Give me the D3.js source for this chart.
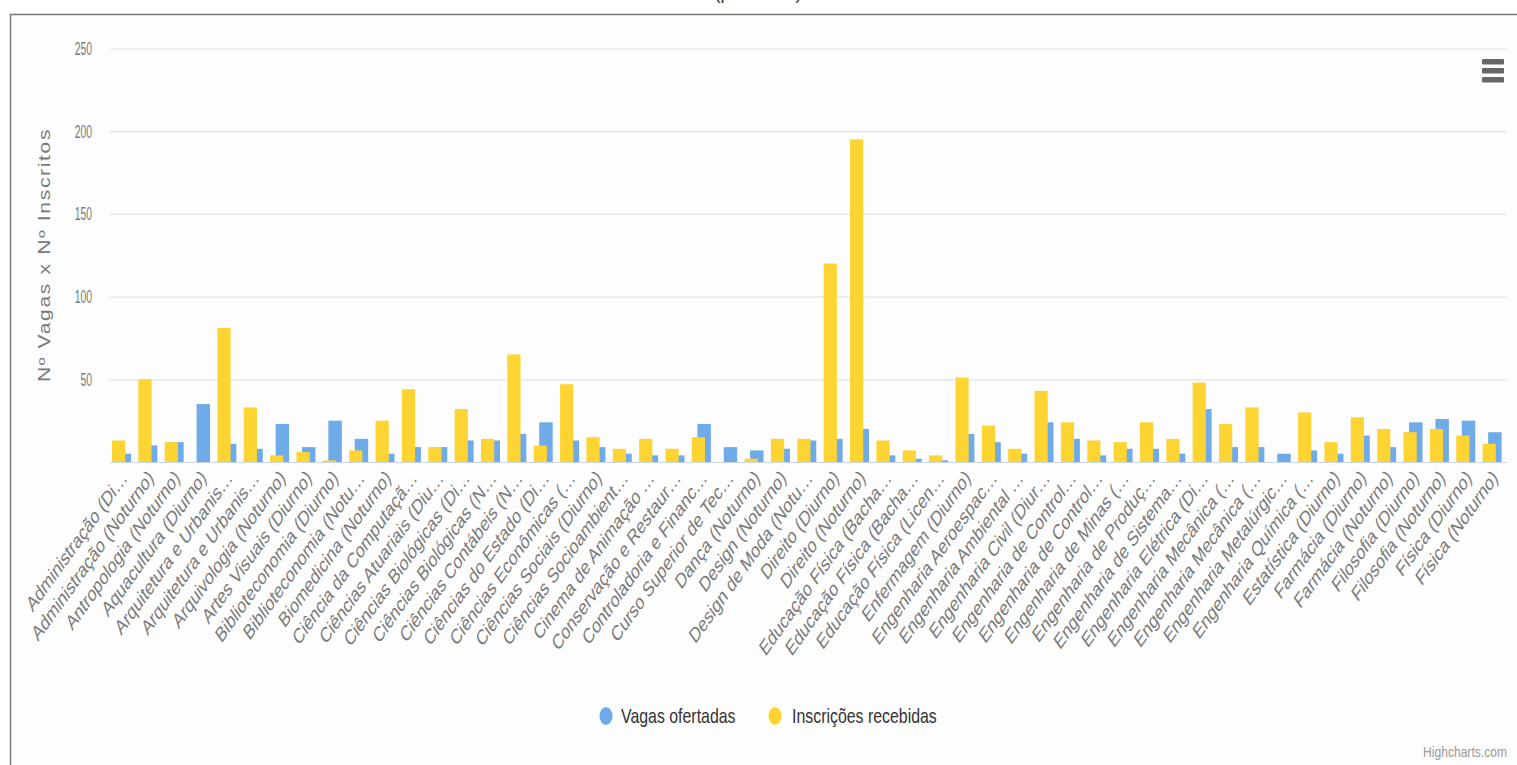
<!DOCTYPE html>
<html>
<head>
<meta charset="utf-8">
<script src="https://cdn.jsdelivr.net/npm/d3@7"></script>
<style>
  html, body { margin: 0; padding: 0; background: #ffffff; }
  svg { display: block; font-family: "Liberation Sans", Arial, sans-serif; }
</style>
</head>
<body>
<svg id="chart" width="1517" height="765"></svg>
<script>
const categories = [
  "Administração (Di…", "Administração (Noturno)", "Antropologia (Noturno)", "Aquacultura (Diurno)",
  "Arquitetura e Urbanis…", "Arquitetura e Urbanis… ", "Arquivologia (Noturno)", "Artes Visuais (Diurno)",
  "Biblioteconomia (Diurno)", "Biblioteconomia (Notu…", "Biomedicina (Noturno)", "Ciência da Computaçã…",
  "Ciências Atuariais (Diu…", "Ciências Biológicas (Di…", "Ciências Biológicas (N…", "Ciências Contábeis (N…",
  "Ciências do Estado (Di…", "Ciências Econômicas (…", "Ciências Sociais (Diurno)", "Ciências Socioambient…",
  "Cinema de Animação …", "Conservação e Restaur…", "Controladoria e Financ…", "Curso Superior de Tec…",
  "Dança (Noturno)", "Design (Noturno)", "Design de Moda (Notu…", "Direito (Diurno)",
  "Direito (Noturno)", "Educação Física (Bacha…", "Educação Física (Bacha… ", "Educação Física (Licen…",
  "Enfermagem (Diurno)", "Engenharia Aeroespac…", "Engenharia Ambiental …", "Engenharia Civil (Diur…",
  "Engenharia de Control…", "Engenharia de Control… ", "Engenharia de Minas (…", "Engenharia de Produç…",
  "Engenharia de Sistema…", "Engenharia Elétrica (Di…", "Engenharia Mecânica (…", "Engenharia Mecânica (… ",
  "Engenharia Metalúrgic…", "Engenharia Química (…", "Estatística (Diurno)", "Farmácia (Diurno)",
  "Farmácia (Noturno)", "Filosofia (Diurno)", "Filosofia (Noturno)", "Física (Diurno)", "Física (Noturno)"
];

const vagasOfertadas = [
  5, 10, 12, 35, 11, 8, 23, 9, 25, 14, 5, 9, 9, 13, 13, 17, 24, 13, 9, 5, 4, 4, 23, 9, 7, 8, 13,
  14, 20, 4, 2, 1, 17, 12, 5, 24, 14, 4, 8, 8, 5, 32, 9, 9, 5, 7, 5, 16, 9, 24, 26, 25, 18
];

const inscricoesRecebidas = [
  13, 50, 12, 0, 81, 33, 4, 6, 1, 7, 25, 44, 9, 32, 14, 65, 10, 47, 15, 8, 14, 8, 15, 0, 2, 14, 14,
  120, 195, 13, 7, 4, 51, 22, 8, 43, 24, 13, 12, 24, 14, 48, 23, 33, 0, 30, 12, 27, 20, 18, 20, 16, 11
];

const yTicks = [0, 50, 100, 150, 200, 250];
const seriesNames = ["Vagas ofertadas", "Inscrições recebidas"];
const seriesColors = ["#6eabe8", "#fdd431"];
const yTitle = "Nº Vagas x Nº Inscritos";
const titleText = "(por curso)";
const creditText = "Highcharts.com";

const svg = d3.select("#chart");
const W = 1517, H = 765;
const plot = { left: 110, right: 1507, top: 48.5, bottom: 462 };

// backgrounds and frame
svg.append("rect").attr("x", 0).attr("y", 0).attr("width", W).attr("height", H).attr("fill", "#ffffff");
svg.append("rect").attr("x", 10.5).attr("y", 14.5).attr("width", W).attr("height", H)
  .attr("fill", "#fdfdfd").attr("stroke", "#7a7a7a").attr("stroke-width", 1.5);

// partially visible title (cut at the top edge, as in the reference)
svg.append("text").attr("x", 758).attr("y", -1).attr("text-anchor", "middle")
  .attr("font-size", 18).attr("fill", "#333").text(titleText);

const x = d3.scaleBand().domain(categories).range([plot.left, plot.right]).paddingInner(0).paddingOuter(0);
const y = d3.scaleLinear().domain([0, 250]).range([plot.bottom, plot.top]);
const bw = x.bandwidth();

// grid lines via axis
const gGrid = svg.append("g").attr("transform", `translate(${plot.left},0)`)
  .call(d3.axisLeft(y).tickValues(yTicks).tickSize(-(plot.right - plot.left)).tickFormat(""));
gGrid.select(".domain").remove();
gGrid.selectAll(".tick line").attr("stroke", d => d === 0 ? "#ccd6eb" : "#e3e3e3").attr("stroke-width", 1.2);

// y tick labels
svg.append("g").selectAll("text").data(yTicks.filter(d => d > 0)).join("text")
  .attr("transform", d => `translate(92,${y(d)}) scale(0.8,1.4)`)
  .attr("dy", "0.36em").attr("text-anchor", "end")
  .attr("font-size", 13).attr("fill", "#7a7a7a").text(d => d);

// y title
svg.append("text")
  .attr("transform", "translate(50,255) scale(1.1,1.4) rotate(-90)")
  .attr("text-anchor", "middle").attr("font-size", 15).attr("letter-spacing", 1.2).attr("fill", "#7a7a7a")
  .text(yTitle);

// bars: blue behind, yellow in front
const gBars = svg.append("g");
gBars.selectAll("rect.vagas").data(categories).join("rect").attr("class", "vagas")
  .attr("x", (c) => x(c) + bw * 0.285)
  .attr("width", bw * 0.51)
  .attr("y", (c, i) => y(vagasOfertadas[i]))
  .attr("height", (c, i) => y(0) - y(vagasOfertadas[i]))
  .attr("fill", seriesColors[0]);
gBars.selectAll("rect.insc").data(categories).join("rect").attr("class", "insc")
  .attr("x", (c) => x(c) + bw * 0.075)
  .attr("width", bw * 0.5)
  .attr("y", (c, i) => y(inscricoesRecebidas[i]))
  .attr("height", (c, i) => y(0) - y(inscricoesRecebidas[i]))
  .attr("fill", seriesColors[1]);

// x axis labels
const gX = svg.append("g").attr("transform", `translate(0,${plot.bottom})`)
  .call(d3.axisBottom(x).tickSize(0).tickFormat(d => d.trim()));
gX.select(".domain").remove();
gX.selectAll(".tick text")
  .attr("x", null).attr("y", null).attr("dy", null)
  .attr("transform", "translate(5,17) scale(1,1.4) rotate(-45)")
  .attr("text-anchor", "end")
  .attr("font-size", 15.2)
  .attr("font-family", "'Liberation Sans', Arial, sans-serif")
  .attr("fill", "#7a7a7a");

// legend
const legendItems = [
  { name: seriesNames[0], color: seriesColors[0], mx: 606, tx: 621 },
  { name: seriesNames[1], color: seriesColors[1], mx: 775, tx: 792 }
];
const gLeg = svg.append("g");
legendItems.forEach(it => {
  gLeg.append("ellipse").attr("cx", it.mx).attr("cy", 716).attr("rx", 6.5).attr("ry", 9).attr("fill", it.color);
  gLeg.append("text").attr("transform", `translate(${it.tx},723) scale(1.06,1.4)`)
    .attr("font-size", 15).attr("fill", "#333").text(it.name);
});

// export menu icon
const gMenu = svg.append("g").attr("fill", "#666");
[59, 68, 77].forEach(yy => {
  gMenu.append("rect").attr("x", 1482).attr("y", yy).attr("width", 22).attr("height", 5.5).attr("rx", 1);
});

// credits
svg.append("text").attr("transform", "translate(1507,757) scale(1.1,1.3)")
  .attr("text-anchor", "end").attr("font-size", 11).attr("fill", "#999").text(creditText);
</script>
</body>
</html>
